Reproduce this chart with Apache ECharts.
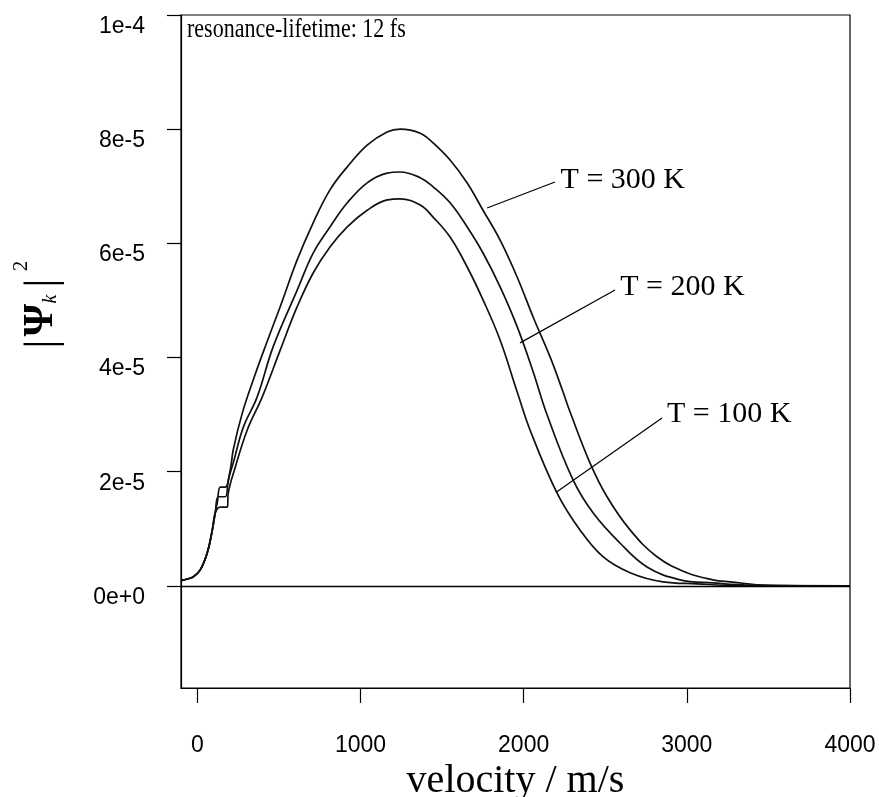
<!DOCTYPE html>
<html>
<head>
<meta charset="utf-8">
<script src="https://cdn.jsdelivr.net/npm/echarts@6/dist/echarts.min.js"></script>
<style>html,body{margin:0;padding:0;background:#fff;}#c{width:879px;height:797px;}</style>
</head>
<body>
<div id="c"></div>
<script>
// ---- data (velocity in m/s, |Psi_k|^2) ----
const xTicks = [0, 1000, 2000, 3000, 4000];
const yTicks = [0, 2e-5, 4e-5, 6e-5, 8e-5, 1e-4];

const t300V = [-100,-60,-24,18,61,92,110,122,141,171,202,220,276,343,420,508,612,710,814,919,1041,1163,1243,1366,1445,1549,1653,1751,1855,1960,2058,2162,2241,2284,2407,2511,2652,2817,3001,3160,3264,3500,4000];
const t300Y = [0.09e-5,0.12e-5,0.16e-5,0.28e-5,0.58e-5,0.98e-5,1.28e-5,1.45e-5,1.73e-5,1.73e-5,2.03e-5,2.38e-5,3.03e-5,3.61e-5,4.22e-5,4.89e-5,5.71e-5,6.36e-5,6.94e-5,7.34e-5,7.72e-5,7.95e-5,8.00e-5,7.93e-5,7.76e-5,7.46e-5,7.06e-5,6.58e-5,6.06e-5,5.41e-5,4.71e-5,4.01e-5,3.40e-5,3.05e-5,2.15e-5,1.56e-5,0.98e-5,0.51e-5,0.23e-5,0.105e-5,0.07e-5,0.01e-5,0];

const t200V = [-100,-60,-24,18,61,92,110,129,171,190,220,282,367,465,612,710,814,919,1041,1163,1243,1366,1445,1549,1653,1751,1855,1960,2058,2143,2302,2425,2590,2756,2958,3160,3400,4000];
const t200Y = [0.09e-5,0.12e-5,0.16e-5,0.28e-5,0.58e-5,0.98e-5,1.28e-5,1.56e-5,1.56e-5,1.86e-5,2.15e-5,2.78e-5,3.31e-5,4.19e-5,5.18e-5,5.83e-5,6.29e-5,6.71e-5,7.06e-5,7.23e-5,7.25e-5,7.15e-5,6.99e-5,6.71e-5,6.29e-5,5.83e-5,5.24e-5,4.54e-5,3.75e-5,3.00e-5,1.86e-5,1.28e-5,0.75e-5,0.33e-5,0.105e-5,0.05e-5,0.01e-5,0];

const t100V = [-100,-60,-24,18,61,92,110,141,184,190,233,306,398,508,612,710,814,919,1041,1163,1243,1366,1445,1549,1653,1751,1855,1960,2039,2204,2345,2486,2652,2854,3062,3300,4000];
const t100Y = [0.09e-5,0.12e-5,0.16e-5,0.28e-5,0.58e-5,0.98e-5,1.28e-5,1.38e-5,1.38e-5,1.63e-5,2.08e-5,2.73e-5,3.31e-5,4.13e-5,4.89e-5,5.48e-5,5.94e-5,6.29e-5,6.58e-5,6.76e-5,6.78e-5,6.67e-5,6.46e-5,6.11e-5,5.59e-5,5.01e-5,4.31e-5,3.40e-5,2.73e-5,1.63e-5,0.98e-5,0.51e-5,0.23e-5,0.07e-5,0.035e-5,0.005e-5,0];

// annotation leader lines: [startV, startY, endV, endY]
const lead300 = [1776, 6.62e-5, 2192, 7.075e-5];
const lead200 = [1978, 4.256e-5, 2560, 5.184e-5];
const lead100 = [2204, 1.646e-5, 2848, 2.942e-5];
const labels = ['T = 300 K', 'T = 200 K', 'T = 100 K'];
const noteText = 'resonance-lifetime: 12 fs';

const zip = (a, b) => a.map((v, i) => [v, b[i]]);
const SERIF = 'Liberation Serif';
const SANS = 'Liberation Sans';

function leader(l, text) {
  const lab = {show: true, position: 'end', distance: 6, formatter: text,
    fontFamily: SERIF, fontSize: 30, color: '#000'};
  return {
    silent: true, symbol: 'none',
    lineStyle: {color: '#000', width: 1.2, type: 'solid'},
    label: lab,
    data: [[{coord: [l[0], l[1]], label: lab}, {coord: [l[2], l[3]], label: lab}]]
  };
}

const lineStyle = {color: '#111', width: 1.7};
const chart = echarts.init(document.getElementById('c'), null, {renderer: 'canvas'});
chart.setOption({
  animation: false,
  backgroundColor: '#fff',
  grid: {left: 181, top: 15, right: 29, bottom: 109, show: true, borderColor: '#000', borderWidth: 1.2,
    containLabel: false, outerBoundsMode: 'none'},
  xAxis: {
    type: 'value', min: -100, max: 4000,
    name: 'velocity / m/s', nameLocation: 'middle', nameGap: 57,
    nameTextStyle: {fontFamily: SERIF, fontSize: 40, color: '#000'},
    axisLine: {show: true, onZero: false, lineStyle: {color: '#000', width: 1.2}},
    axisTick: {show: true, inside: false, length: 15, customValues: xTicks, lineStyle: {color: '#000', width: 1.2}},
    axisLabel: {show: true, customValues: xTicks, margin: 46, fontFamily: SANS, fontSize: 23, color: '#000',
      formatter: v => String(Math.round(v))},
    splitLine: {show: false}
  },
  yAxis: {
    type: 'value', min: -1.79e-5, max: 1e-4,
    axisLine: {show: true, onZero: false, lineStyle: {color: '#000', width: 1.2}},
    axisTick: {show: true, inside: false, length: 14, customValues: yTicks, lineStyle: {color: '#000', width: 1.2}},
    axisLabel: {show: true, customValues: yTicks, margin: 36, verticalAlign: 'top', fontFamily: SANS, fontSize: 23, color: '#000',
      formatter: v => Number(v).toExponential(0)},
    splitLine: {show: false}
  },
  graphic: [{
    type: 'text', x: 187, y: 16, scaleY: 1.25, silent: true,
    style: {text: noteText, fontFamily: SERIF, fontSize: 22, fill: '#000', textAlign: 'left', textVerticalAlign: 'top'}
  }, {
    type: 'group', x: 43, y: 313, rotation: Math.PI / 2, silent: true,
    children: [
      {type: 'text', x: -31, y: 0, style: {text: '|', fontFamily: SERIF, fontSize: 44, fill: '#000', textAlign: 'center', textVerticalAlign: 'middle'}},
      {type: 'text', x: -7, y: -2, style: {text: 'Ψ', fontFamily: SERIF, fontWeight: 'bold', fontSize: 42, fill: '#000', textAlign: 'center', textVerticalAlign: 'middle'}},
      {type: 'text', x: 14, y: 8, style: {text: 'k', fontFamily: SERIF, fontStyle: 'italic', fontSize: 20, fill: '#000', textAlign: 'center', textVerticalAlign: 'middle'}},
      {type: 'text', x: 30, y: 0, style: {text: '|', fontFamily: SERIF, fontSize: 44, fill: '#000', textAlign: 'center', textVerticalAlign: 'middle'}},
      {type: 'text', x: 47, y: -22, style: {text: '2', fontFamily: SERIF, fontSize: 21, fill: '#000', textAlign: 'center', textVerticalAlign: 'middle'}}
    ]
  }],
  series: [
    {type: 'line', name: labels[0], data: zip(t300V, t300Y), showSymbol: false, smooth: 0.4, lineStyle: lineStyle,
      markLine: leader(lead300, labels[0])},
    {type: 'line', name: labels[1], data: zip(t200V, t200Y), showSymbol: false, smooth: 0.4, lineStyle: lineStyle,
      markLine: leader(lead200, labels[1])},
    {type: 'line', name: labels[2], data: zip(t100V, t100Y), showSymbol: false, smooth: 0.4, lineStyle: lineStyle,
      markLine: leader(lead100, labels[2])},
    {type: 'line', name: 'zero', data: [], markLine: {silent: true, symbol: 'none', label: {show: false},
      lineStyle: {color: '#000', width: 1.3, type: 'solid'}, data: [{yAxis: 0}]}}
  ]
});
</script>
</body>
</html>
